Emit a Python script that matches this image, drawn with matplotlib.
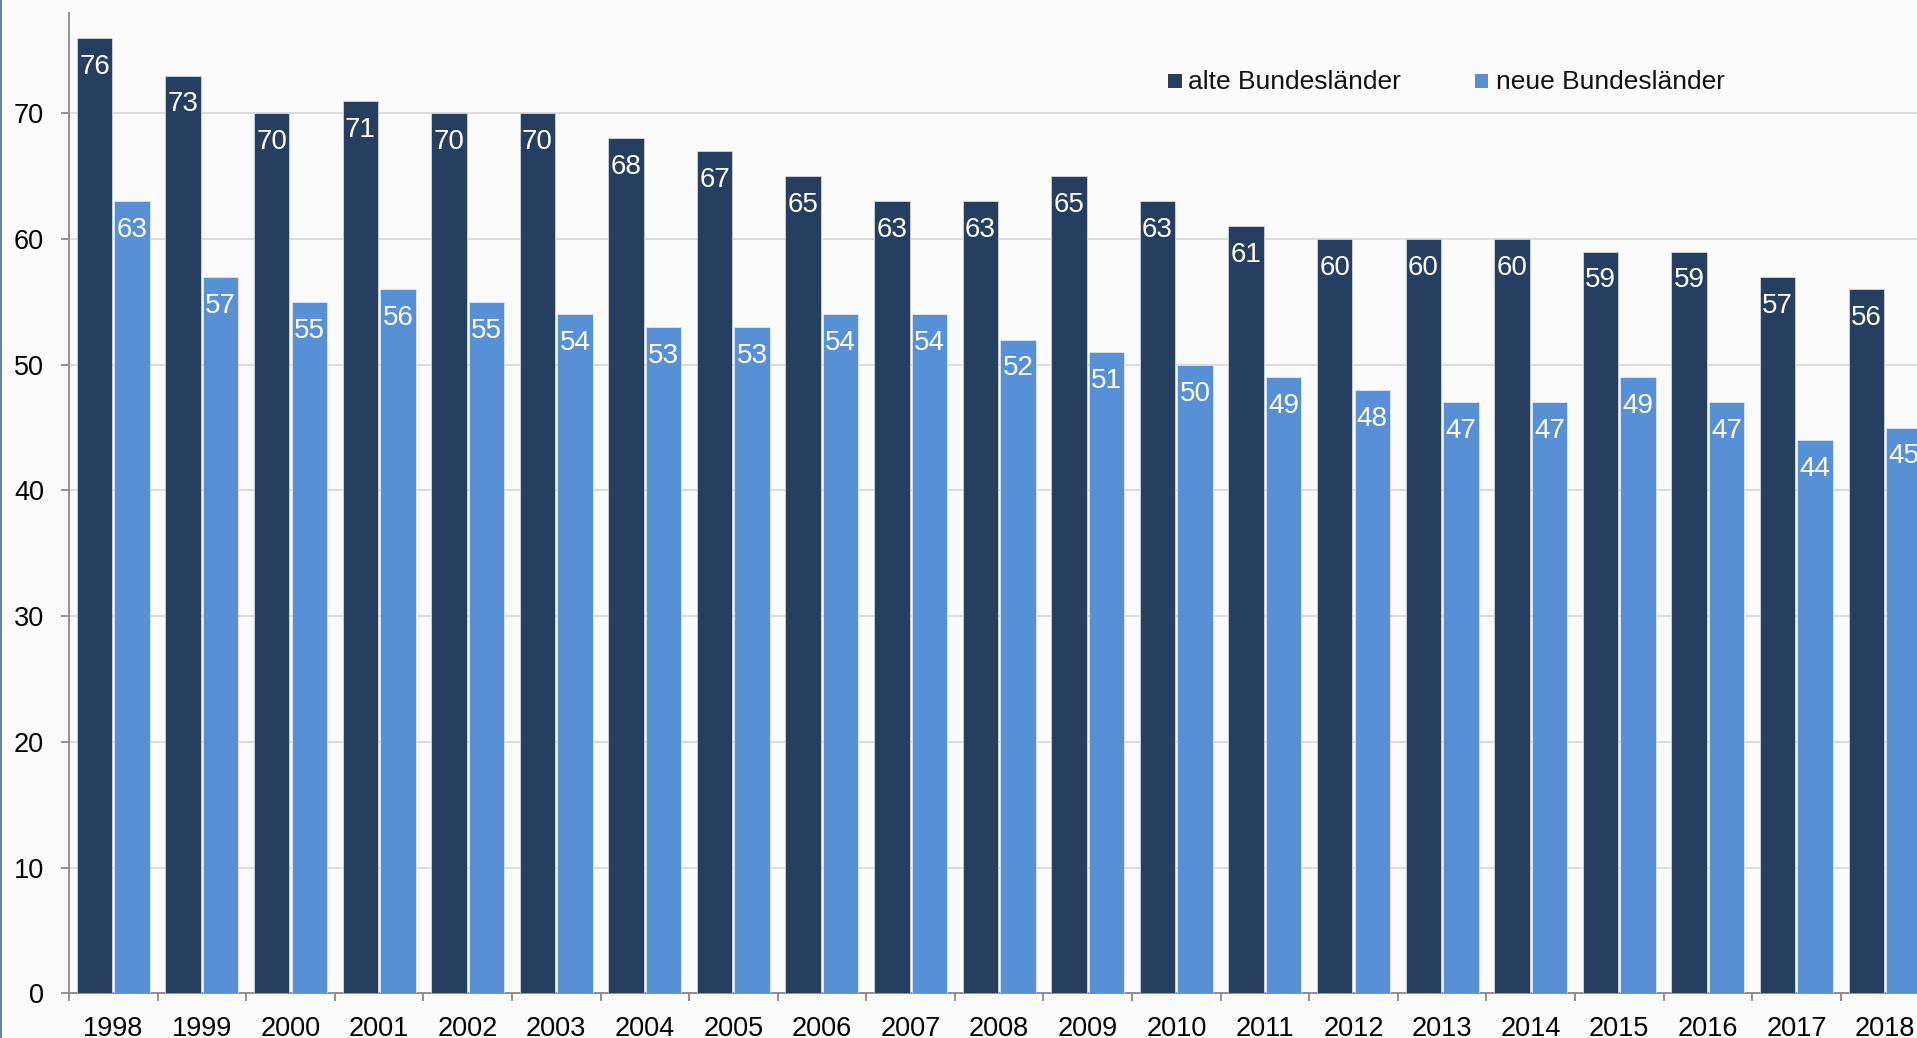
import matplotlib
matplotlib.use("Agg")
import matplotlib.pyplot as plt
from matplotlib.lines import Line2D
from matplotlib.patches import Rectangle
import numpy as np

plt.rcParams["font.family"] = ["Liberation Sans", "DejaVu Sans"]

years = [str(y) for y in range(1998, 2019)]
alte = [76, 73, 70, 71, 70, 70, 68, 67, 65, 63, 63, 65, 63, 61, 60, 60, 60, 59, 59, 57, 56]
neue = [63, 57, 55, 56, 55, 54, 53, 53, 54, 54, 52, 51, 50, 49, 48, 47, 47, 49, 47, 44, 45]
series_names = ["alte Bundesländer", "neue Bundesländer"]

DARK = "#263f61"
LIGHT = "#5790d5"
BG = "#fbfbfb"
FS = 19.5

W, H = 1917, 1038
fig = plt.figure(figsize=(W / 100, H / 100), dpi=100, facecolor=BG)
# axes runs slightly past the right edge, the reference is cropped there
ax = fig.add_axes([69 / W, (H - 993.3) / H, (1929.3 - 69) / W, (993.3 - 12.7) / H])
ax.set_facecolor(BG)

x = np.arange(len(years))
off, bw = 0.212, 0.40
ax.bar(x - off, alte, bw, color=DARK, edgecolor="#dfe3ea", linewidth=0.5, zorder=3)
ax.bar(x + off, neue, bw, color=LIGHT, edgecolor="#e8eef6", linewidth=0.5, zorder=3)

for xi, v in zip(x, alte):
    ax.text(xi - off, v - 2.85, str(v), ha="center", va="baseline",
            color="white", fontsize=20, zorder=4)
for xi, v in zip(x, neue):
    ax.text(xi + off, v - 2.85, str(v), ha="center", va="baseline",
            color="white", fontsize=20, zorder=4)

ax.set_xlim(-0.5, len(years) - 0.5)
ax.set_ylim(0, 78)
ax.set_yticks(range(0, 80, 10))
ax.grid(axis="y", color="#d9d9d9", linewidth=1.3, zorder=0)
ax.set_axisbelow(True)

ax.set_xticks(x)
ax.set_xticklabels(years)
ax.set_xticks(np.arange(-0.5, len(years)), minor=True)
ax.tick_params(axis="x", which="major", length=0, pad=16, labelsize=FS)
ax.tick_params(axis="x", which="minor", length=6, width=1.3, color="#888888")
ax.tick_params(axis="y", length=6, width=1.3, color="#888888", pad=12, labelsize=FS)

for s in ("top", "right"):
    ax.spines[s].set_visible(False)
for s in ("left", "bottom"):
    ax.spines[s].set_color("#888888")
    ax.spines[s].set_linewidth(1.3)

# legend drawn by hand: small square + label, placed in pixel positions
def fy(py):
    return (H - py) / H

for (sx, tx), name, col in zip([(1168.3, 1188.3), (1475, 1496)], series_names, [DARK, LIGHT]):
    fig.add_artist(Rectangle((sx / W, fy(88.3)), 13.4 / W, 14 / H,
                             transform=fig.transFigure, facecolor=col, edgecolor="none"))
    fig.text(tx / W, fy(89), name, fontsize=19, ha="left", va="baseline", color="#111111")

# thin blue border on the left edge of the picture
fig.add_artist(Line2D([0.6 / W, 0.6 / W], [0, 1], color="#4a6a9a", linewidth=1.2))

fig.savefig("out.png", dpi=100, facecolor=BG)
